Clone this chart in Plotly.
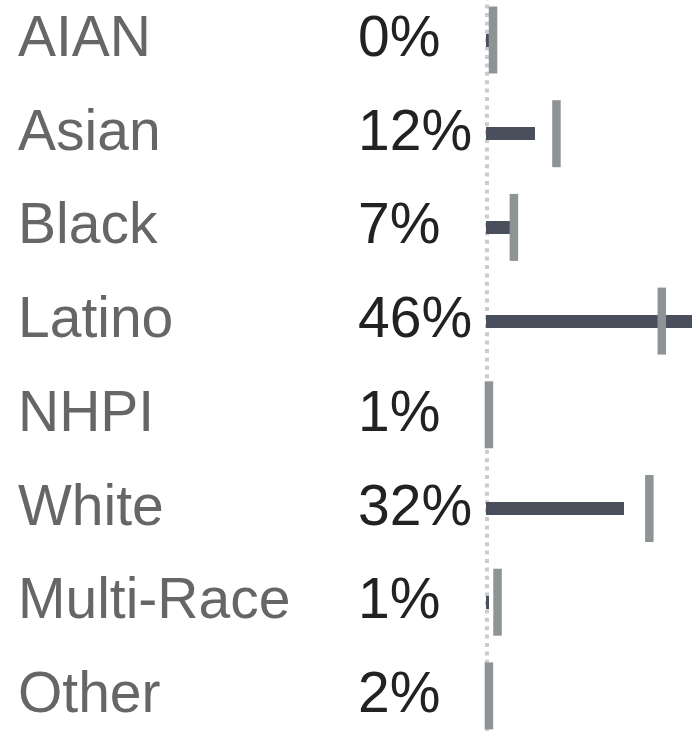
import plotly.graph_objects as go

# ---- data ----
categories = ["AIAN", "Asian", "Black", "Latino", "NHPI", "White", "Multi-Race", "Other"]
pct_labels = ["0%", "12%", "7%", "46%", "1%", "32%", "1%", "2%"]
share = [0.8, 11.5, 7.0, 48.5, 1.0, 32.2, 0.8, 1.7]          # dark bars (%)
benchmark = [1.75, 16.5, 6.6, 41.0, 0.8, 38.1, 2.8, 0.8]      # grey ticks (%)

# ---- geometry (pixels) ----
W, H = 692, 731
x0_px, px_per_pct = 485.5, 4.3
row0_px, row_step = 40, 93.7

idx = list(range(len(categories)))

fig = go.Figure()
fig.add_bar(
    y=idx, x=share, orientation="h", width=13 / row_step,
    marker=dict(color="#4a505b", line=dict(width=0)),
    hoverinfo="skip",
)
fig.add_scatter(
    y=idx, x=benchmark, mode="markers",
    marker=dict(symbol="line-ns", size=67 / 1.4,
                line=dict(width=8.5, color="#8e9496")),
    hoverinfo="skip",
)

font_family = "Liberation Sans, Arial, sans-serif"
annotations = []
for i, (c, p) in enumerate(zip(categories, pct_labels)):
    annotations.append(dict(
        x=16 / W, xref="paper", y=i, yref="y", text=c, showarrow=False,
        xanchor="left", yanchor="middle", yshift=4,
        font=dict(family=font_family, size=57, color="#666666"),
    ))
    annotations.append(dict(
        x=356 / W, xref="paper", y=i, yref="y", text=p, showarrow=False,
        xanchor="left", yanchor="middle", yshift=4,
        font=dict(family=font_family, size=57, color="#222222"),
    ))

fig.update_layout(
    width=W, height=H,
    margin=dict(l=0, r=0, t=0, b=0),
    paper_bgcolor="white", plot_bgcolor="white",
    showlegend=False,
    bargap=0,
    xaxis=dict(range=[-x0_px / px_per_pct, (W - x0_px) / px_per_pct],
               visible=False, fixedrange=True),
    yaxis=dict(range=[(H - row0_px) / row_step, -row0_px / row_step],
               visible=False, fixedrange=True),
    shapes=[dict(type="line", xref="x", yref="paper", x0=0.35, x1=0.35, y0=0, y1=1,
                 line=dict(color="#cccccc", width=4, dash="4px,4.4px"), layer="below")],
    annotations=annotations,
)

fig.write_html("out.html", config={"displayModeBar": False, "staticPlot": True},
               post_script="document.body.style.margin='0';")
